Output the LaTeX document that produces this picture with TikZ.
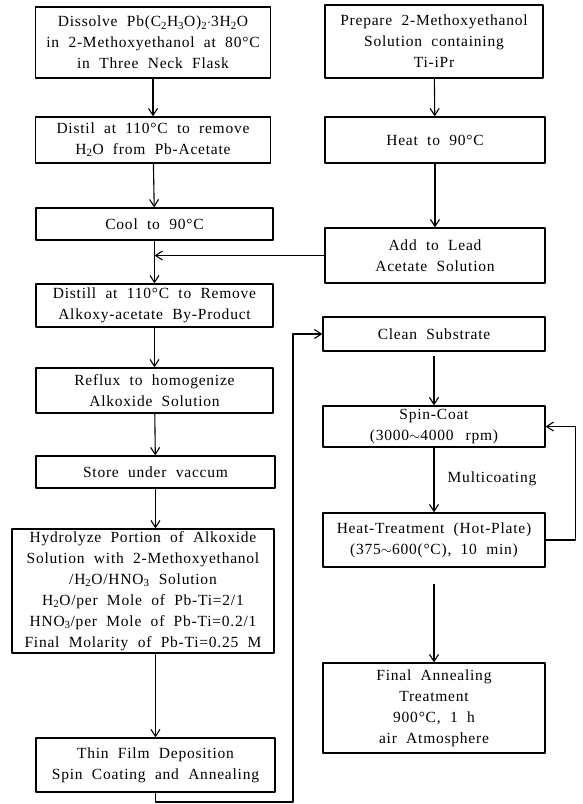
\documentclass[tikz,border=0pt]{standalone}
\usepackage{fontspec}
\setmainfont{Liberation Serif}[LetterSpace=5, WordSpace=2]
\usetikzlibrary{arrows.meta}
\newcommand{\dC}{\textdegree C}
\newcommand{\sub}[1]{\textsubscript{#1}}
\tikzset{txt/.style={font=\fontsize{15.5}{21}\selectfont},
  box/.style={draw, line width=1.2pt, align=center, inner sep=0pt, txt}}
\begin{document}
\begin{tikzpicture}[x=1pt, y=-1pt, line width=1.1pt, line join=round, >={Straight Barb[length=7pt,width=9pt]}]
\useasboundingbox (0,0) rectangle (583,804);
% left column
\node[box, minimum width=235pt, minimum height=71pt] (dissolve) at (153,42.5) {Dissolve Pb(C\sub{2}H\sub{3}O)\sub{2}$\cdot$3H\sub{2}O\\in 2-Methoxyethanol at 80\dC\\in Three Neck Flask};
\node[box, minimum width=235pt, minimum height=46pt] (distil) at (153,140) {Distil at 110\dC\ to remove\\H\sub{2}O from Pb-Acetate};
\node[box, minimum width=237pt, minimum height=32pt] (cool) at (154.5,224) {Cool to 90\dC};
\node[box, minimum width=237pt, minimum height=43pt] (distill) at (154.5,305.5) {Distill at 110\dC\ to Remove\\Alkoxy-acetate By-Product};
\node[box, minimum width=237pt, minimum height=45pt] (reflux) at (154.5,390.5) {Reflux to homogenize\\Alkoxide Solution};
\node[box, minimum width=239pt, minimum height=32pt] (store) at (155.5,472) {Store under vaccum};
\node[box, minimum width=262pt, minimum height=124pt] (hydro) at (143,591) {Hydrolyze Portion of Alkoxide\\Solution with 2-Methoxyethanol\\/H\sub{2}O/HNO\sub{3} Solution\\H\sub{2}O/per Mole of Pb-Ti=2/1\\HNO\sub{3}/per Mole of Pb-Ti=0.2/1\\Final Molarity of Pb-Ti=0.25 M};
\node[box, minimum width=239pt, minimum height=54pt] (thin) at (155.5,765) {Thin Film Deposition\\Spin Coating and Annealing};
% right column
\node[box, minimum width=218pt, minimum height=73pt] (prep) at (434,41.5) {Prepare 2-Methoxyethanol\\Solution containing\\Ti-iPr};
\node[box, minimum width=220pt, minimum height=46pt] (heat) at (435,140) {Heat to 90\dC};
\node[box, minimum width=220pt, minimum height=55pt] (add) at (435,255.5) {Add to Lead\\Acetate Solution};
\node[box, minimum width=222pt, minimum height=34pt] (clean) at (434,334) {Clean Substrate};
\node[box, minimum width=222pt, minimum height=41pt] (spin) at (434,426.5) {Spin-Coat\\(3000$\sim$4000\ \,rpm)};
\node[box, minimum width=222pt, minimum height=54pt] (treat) at (434,540) {Heat-Treatment (Hot-Plate)\\(375$\sim$600(\dC), 10 min)};
\node[box, minimum width=222pt, minimum height=90pt] (anneal) at (434,708) {Final Annealing\\Treatment\\900\dC, 1 h\\air Atmosphere};
\node[txt] (multi) at (492,479) {Multicoating};
\coordinate (turn) at (293,802);
% arrows
\draw[->] (dissolve) -- (distil);
\draw[->] (distil) -- (cool);
\draw[->] (cool) -- (distill);
\draw[->] (distill) -- (reflux);
\draw[->] (reflux) -- (store);
\draw[->] (store.south) -- (store.south |- hydro.north);
\draw[->] (hydro.south -| thin.north) -- (thin.north);
\draw[->] (prep) -- (heat);
\draw[->] (heat) -- (add);
\draw[->] (add.west) -- (add.west -| cool.south);
\draw[->] (thin.south) |- (turn) |- (clean.west);
\draw[->] ([yshift=-4pt]clean.south) -- (spin.north);
\draw[->] (spin) -- (treat);
\draw[->] (treat.east) -- ++(30,0) |- (spin.east);
\draw[->] ([yshift=-16pt]treat.south) -- (anneal.north);
\end{tikzpicture}
\end{document}
